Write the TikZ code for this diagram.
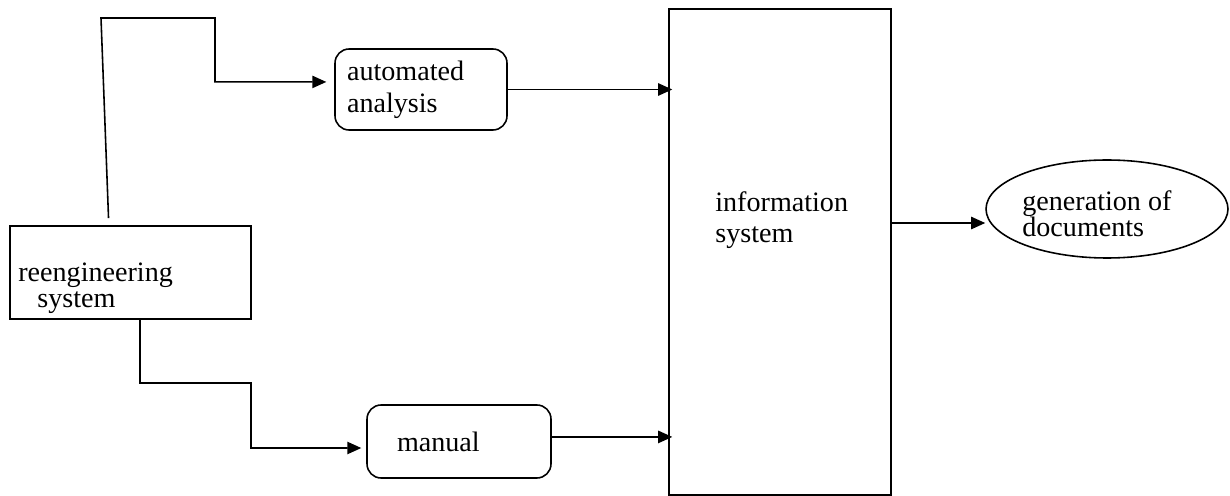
\documentclass[tikz,border=0pt]{standalone}
\usepackage{fontspec}
\setmainfont{Liberation Serif}
\usepackage{tikz}
\usetikzlibrary{shapes.geometric, arrows.meta, positioning}

\begin{document}
\begin{tikzpicture}[x=0.02cm, y=-0.02cm,
  font=\fontsize{16}{18}\selectfont,
  sysbox/.style={rectangle, draw, line width=0.9pt, inner sep=0pt},
  proc/.style={rectangle, draw, rounded corners=8pt, line width=0.9pt,
    inner sep=0pt, align=left},
  oval/.style={ellipse, draw, line width=0.9pt, inner sep=0pt},
  txt/.style={inner sep=0pt, anchor=base west, align=left},
  arr/.style={-{Triangle[length=8pt,width=7pt]}, line width=0.9pt}]

  \useasboundingbox (0,0) rectangle (1230,496);

  \node[sysbox, minimum width=4.82cm, minimum height=1.86cm] (reeng) at (130.5,272.5) {};
  \node[txt] (reengtxt) at (18,308) {reengineering\\[-3.2pt]\hspace*{10.8pt}system};

  \node[proc, minimum width=3.44cm, minimum height=1.62cm, text width=2.96cm] (auto) at (421,89.5) {automated\\analysis};
  \node[proc, minimum width=3.68cm, minimum height=1.46cm, text width=2.48cm] (manual) at (459,441.5) {manual};

  \node[sysbox, minimum width=4.44cm, minimum height=9.72cm] (info) at (780,252) {};
  \node[txt] (infotxt) at (715,243) {information\\system};

  % output
  \node[oval, minimum width=4.84cm, minimum height=1.96cm] (gen) at (1107,209) {};
  \node[txt] (gentxt) at (1022,237) {generation of\\[-3pt]documents};

  \draw[arr, shorten >=4.5pt] ([xshift=-12.5pt,yshift=4pt]reeng.north) -- (101,18) -- (215,18) |- ([yshift=4.3pt]auto.west);
  \draw[arr, shorten >=2.8pt] ([xshift=5.4pt]reeng.south) -- (140,383) -- (251,383) |- ([yshift=-3.7pt]manual.west);
  \draw[arr, shorten >=-2.3pt] (auto.east) -- (auto.east -| info.west);
  \draw[arr, shorten >=-2.3pt] ([yshift=2.6pt]manual.east) -- ([yshift=2.6pt]manual.east -| info.west);
  \draw[arr] ([yshift=16.5pt]info.east) -- ([yshift=16.5pt]info.east -| gen.west);
\end{tikzpicture}
\end{document}
